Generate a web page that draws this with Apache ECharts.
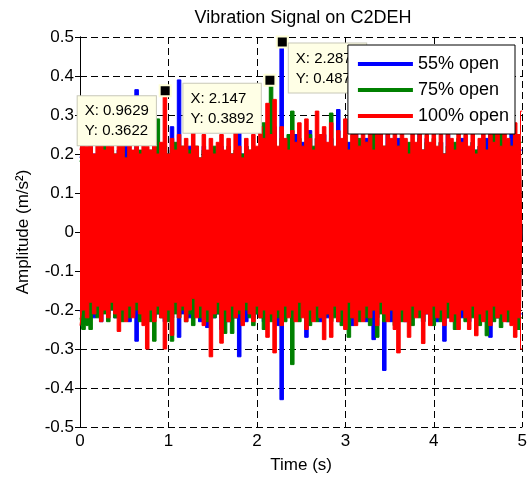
<!DOCTYPE html>
<html>
<head>
<meta charset="utf-8">
<script src="https://cdn.jsdelivr.net/npm/echarts@6/dist/echarts.min.js"></script>
<style>
html, body { margin: 0; padding: 0; background: #fff; }
#chart { width: 530px; height: 479px; }
</style>
</head>
<body>
<div id="chart"></div>
<script>
// sample period of the envelope readings (s)
var dt = 0.04;

var names = ['55% open', '75% open', '100% open'];

// upper / lower peaks, one value every dt
var blueUp = [
    0.19, 0.21, 0.18, 0.22, 0.2, 0.17, 0.21, 0.27, 0.19, 0.2,
    0.18, 0.21, 0.2, 0.22, 0.19, 0.2, 0.365, 0.18, 0.21, 0.2,
    0.19, 0.22, 0.2, 0.18, 0.21, 0.2, 0.27, 0.19, 0.39, 0.21,
    0.2, 0.22, 0.19, 0.21, 0.18, 0.22, 0.2, 0.19, 0.21, 0.2,
    0.22, 0.19, 0.21, 0.2, 0.18, 0.378, 0.2, 0.22, 0.19, 0.21,
    0.2, 0.22, 0.19, 0.21, 0.23, 0.27, 0.2, 0.487, 0.22, 0.24,
    0.21, 0.25, 0.2, 0.23, 0.22, 0.26, 0.2, 0.24, 0.22, 0.25,
    0.21, 0.24, 0.2, 0.314, 0.22, 0.2, 0.23, 0.21, 0.3, 0.22,
    0.2, 0.24, 0.21, 0.26, 0.2, 0.23, 0.21, 0.25, 0.2, 0.22,
    0.24, 0.2, 0.22, 0.21, 0.23, 0.2, 0.26, 0.21, 0.24, 0.2,
    0.22, 0.21, 0.23, 0.2, 0.25, 0.21, 0.22, 0.2, 0.24, 0.21,
    0.2, 0.23, 0.21, 0.22, 0.2, 0.24, 0.25, 0.21, 0.22, 0.2,
    0.23, 0.21, 0.28, 0.2, 0.22, 0.21
];
var blueLow = [
    -0.2, -0.22, -0.19, -0.21, -0.22, -0.2, -0.23, -0.19, -0.21, -0.2,
    -0.22, -0.2, -0.21, -0.19, -0.23, -0.2, -0.28, -0.21, -0.19, -0.22,
    -0.2, -0.22, -0.21, -0.2, -0.23, -0.21, -0.22, -0.2, -0.27, -0.21,
    -0.2, -0.22, -0.21, -0.19, -0.23, -0.21, -0.245, -0.2, -0.22, -0.21,
    -0.25, -0.2, -0.23, -0.21, -0.22, -0.32, -0.21, -0.23, -0.2, -0.22,
    -0.21, -0.2, -0.23, -0.21, -0.22, -0.2, -0.24, -0.43, -0.22, -0.21,
    -0.23, -0.2, -0.22, -0.21, -0.27, -0.2, -0.22, -0.21, -0.23, -0.2,
    -0.22, -0.21, -0.2, -0.23, -0.21, -0.22, -0.2, -0.24, -0.21, -0.22,
    -0.2, -0.23, -0.21, -0.276, -0.22, -0.2, -0.355, -0.21, -0.23, -0.2,
    -0.22, -0.21, -0.23, -0.2, -0.22, -0.21, -0.2, -0.23, -0.21, -0.22,
    -0.2, -0.23, -0.21, -0.28, -0.22, -0.2, -0.23, -0.21, -0.22, -0.2,
    -0.23, -0.21, -0.2, -0.22, -0.21, -0.23, -0.27, -0.2, -0.22, -0.21,
    -0.2, -0.23, -0.21, -0.22, -0.2, -0.21
];
var greenUp = [
    0.18, 0.2, 0.17, 0.21, 0.19, 0.2, 0.18, 0.22, 0.19, 0.21,
    0.2, 0.18, 0.22, 0.19, 0.21, 0.2, 0.18, 0.21, 0.2, 0.19,
    0.21, 0.2, 0.29, 0.19, 0.22, 0.2, 0.21, 0.23, 0.2, 0.22,
    0.19, 0.21, 0.2, 0.22, 0.19, 0.21, 0.2, 0.18, 0.22, 0.2,
    0.21, 0.19, 0.22, 0.2, 0.21, 0.19, 0.2, 0.22, 0.21, 0.19,
    0.21, 0.2, 0.28, 0.22, 0.389, 0.23, 0.21, 0.24, 0.22, 0.25,
    0.31, 0.22, 0.24, 0.21, 0.23, 0.25, 0.22, 0.24, 0.21, 0.23,
    0.22, 0.305, 0.21, 0.24, 0.22, 0.25, 0.21, 0.23, 0.22, 0.24,
    0.21, 0.23, 0.22, 0.25, 0.21, 0.24, 0.22, 0.2, 0.23, 0.21,
    0.22, 0.24, 0.21, 0.23, 0.2, 0.22, 0.24, 0.21, 0.23, 0.22,
    0.24, 0.21, 0.23, 0.2, 0.22, 0.21, 0.23, 0.24, 0.21, 0.22,
    0.2, 0.23, 0.21, 0.22, 0.24, 0.21, 0.23, 0.27, 0.22, 0.27,
    0.21, 0.23, 0.22, 0.24, 0.21, 0.23
];
var greenLow = [
    -0.22, -0.25, -0.24, -0.25, -0.21, -0.22, -0.2, -0.21, -0.23, -0.2,
    -0.22, -0.21, -0.23, -0.2, -0.22, -0.21, -0.2, -0.23, -0.21, -0.22,
    -0.23, -0.28, -0.21, -0.22, -0.2, -0.23, -0.28, -0.21, -0.22, -0.2,
    -0.23, -0.21, -0.24, -0.2, -0.22, -0.21, -0.23, -0.2, -0.22, -0.21,
    -0.22, -0.26, -0.21, -0.26, -0.22, -0.21, -0.23, -0.2, -0.22, -0.24,
    -0.21, -0.22, -0.25, -0.2, -0.23, -0.21, -0.22, -0.2, -0.23, -0.21,
    -0.34, -0.21, -0.23, -0.2, -0.22, -0.24, -0.21, -0.23, -0.2, -0.22,
    -0.21, -0.23, -0.22, -0.2, -0.24, -0.21, -0.27, -0.22, -0.2, -0.23,
    -0.21, -0.22, -0.24, -0.2, -0.27, -0.21, -0.23, -0.22, -0.2, -0.24,
    -0.21, -0.23, -0.22, -0.2, -0.24, -0.21, -0.22, -0.23, -0.2, -0.22,
    -0.24, -0.21, -0.23, -0.2, -0.22, -0.21, -0.25, -0.22, -0.2, -0.23,
    -0.21, -0.22, -0.2, -0.24, -0.22, -0.266, -0.21, -0.23, -0.22, -0.245,
    -0.2, -0.23, -0.22, -0.21, -0.25, -0.22
];
var redUp = [
    0.21, 0.24, 0.22, 0.26, 0.2, 0.23, 0.25, 0.21, 0.24, 0.22,
    0.2, 0.25, 0.22, 0.19, 0.24, 0.21, 0.23, 0.2, 0.26, 0.22,
    0.21, 0.24, 0.2, 0.23, 0.36, 0.2, 0.24, 0.21, 0.25, 0.22,
    0.24, 0.2, 0.26, 0.22, 0.19, 0.25, 0.21, 0.24, 0.2, 0.23,
    0.25, 0.21, 0.24, 0.2, 0.26, 0.22, 0.19, 0.24, 0.21, 0.25,
    0.22, 0.27, 0.24, 0.33, 0.25, 0.34, 0.22, 0.27, 0.24, 0.21,
    0.26, 0.23, 0.28, 0.22, 0.29, 0.24, 0.21, 0.31, 0.25, 0.27,
    0.23, 0.28, 0.22, 0.26, 0.24, 0.29, 0.21, 0.25, 0.27, 0.22,
    0.26, 0.23, 0.28, 0.21, 0.25, 0.3, 0.22, 0.27, 0.24, 0.26,
    0.22, 0.27, 0.24, 0.2, 0.26, 0.23, 0.28, 0.21, 0.25, 0.23,
    0.27, 0.22, 0.25, 0.2, 0.26, 0.24, 0.21, 0.27, 0.23, 0.25,
    0.22, 0.26, 0.2, 0.24, 0.27, 0.21, 0.25, 0.23, 0.26, 0.22,
    0.27, 0.24, 0.22, 0.28, 0.25, 0.31
];
var redLow = [
    -0.24, -0.2, -0.22, -0.18, -0.21, -0.19, -0.23, -0.2, -0.22, -0.18,
    -0.21, -0.255, -0.2, -0.23, -0.19, -0.22, -0.18, -0.21, -0.24, -0.3,
    -0.2, -0.23, -0.19, -0.22, -0.3, -0.2, -0.265, -0.18, -0.22, -0.19,
    -0.23, -0.2, -0.17, -0.22, -0.19, -0.24, -0.2, -0.32, -0.21, -0.18,
    -0.285, -0.2, -0.23, -0.19, -0.22, -0.2, -0.24, -0.18, -0.21, -0.23,
    -0.19, -0.22, -0.2, -0.27, -0.21, -0.31, -0.2, -0.24, -0.19, -0.22,
    -0.2, -0.23, -0.18, -0.22, -0.25, -0.2, -0.23, -0.19, -0.22, -0.276,
    -0.21, -0.27, -0.19, -0.23, -0.2, -0.25, -0.18, -0.22, -0.24, -0.2,
    -0.23, -0.19, -0.22, -0.2, -0.24, -0.18, -0.21, -0.23, -0.2, -0.25,
    -0.31, -0.2, -0.23, -0.27, -0.19, -0.22, -0.2, -0.286, -0.21, -0.24,
    -0.19, -0.22, -0.2, -0.24, -0.18, -0.23, -0.21, -0.25, -0.2, -0.22,
    -0.25, -0.19, -0.266, -0.21, -0.23, -0.2, -0.24, -0.19, -0.22, -0.21,
    -0.23, -0.2, -0.24, -0.27, -0.22, -0.3
];

// data tips shown on the plot
var tipX = [0.9629, 2.147, 2.287];
var tipY = [0.3622, 0.3892, 0.4872];

var colors = ['#0000ff', '#008000', '#ff0000'];
var upper = [blueUp, greenUp, redUp];
var lower = [blueLow, greenLow, redLow];
var tipSeries = [2, 1, 0];           // which trace each tip sits on
var tipPos = [[-81, 12], [-80, 10], [13, 8]];

var font = 'Liberation Sans, Arial, sans-serif';

function pairs(arr) {
    return arr.map(function (v, i) { return [+(i * dt).toFixed(2), v]; });
}

var series = [];
for (var k = 0; k < 3; k++) {
    [upper[k], lower[k]].forEach(function (arr, half) {
        var s = {
            name: names[k],
            type: 'line',
            data: pairs(arr),
            symbol: 'none',
            step: 'middle',
            sampling: null,
            lineStyle: { color: colors[k], width: 1 },
            itemStyle: { color: colors[k] },
            areaStyle: { color: colors[k], opacity: 1 },
            z: 2 + k
        };
        if (half === 0) {
            var marks = [];
            tipSeries.forEach(function (sIdx, j) {
                if (sIdx !== k) return;
                marks.push({
                    coord: [tipX[j], tipY[j]],
                    label: {
                        position: tipPos[j],
                        formatter: 'X: ' + tipX[j] + '\nY: ' + tipY[j]
                    }
                });
            });
            if (marks.length) {
                s.markPoint = {
                    symbol: 'rect',
                    symbolSize: 11,
                    itemStyle: { color: '#000', borderColor: '#ffffd8', borderWidth: 2 },
                    label: {
                        show: true,
                        color: '#000',
                        fontFamily: font,
                        fontSize: 15,
                        lineHeight: 20,
                        backgroundColor: '#ffffe6',
                        borderColor: '#c8c8b8',
                        borderWidth: 1,
                        padding: [5, 7, 4, 7],
                        align: 'left',
                        verticalAlign: 'top'
                    },
                    data: marks
                };
            }
        }
        series.push(s);
    });
}

var axisLine = { show: true, lineStyle: { color: '#000', width: 1 } };
var axisTick = { show: true, inside: true, length: 5, lineStyle: { color: '#000' } };
var grid = { type: [7, 4], color: '#000', width: 1 };

var myChart = echarts.init(document.getElementById('chart'));

var option = {
    animation: false,
    backgroundColor: '#fff',
    title: {
        text: 'Vibration Signal on C2DEH',
        left: 298,
        textAlign: 'center',
        top: 4,
        textStyle: { fontFamily: font, fontSize: 18, fontWeight: 'normal', color: '#000' }
    },
    grid: { left: 80, right: 5, top: 37, bottom: 49 },
    legend: {
        data: names,
        orient: 'vertical',
        right: 15,
        top: 45,
        z: 10,
        backgroundColor: '#fff',
        borderColor: '#000',
        borderWidth: 1,
        padding: [10, 6, 9, 10],
        icon: 'rect',
        itemWidth: 55,
        itemHeight: 4,
        itemGap: 8,
        selectedMode: false,
        textStyle: { fontFamily: font, fontSize: 18, color: '#000' }
    },
    xAxis: [{
        type: 'value',
        min: 0,
        max: 5,
        interval: 1,
        name: 'Time (s)',
        nameLocation: 'middle',
        nameGap: 30,
        nameTextStyle: { fontFamily: font, fontSize: 17, color: '#000' },
        axisLine: axisLine,
        axisTick: axisTick,
        axisLabel: { fontFamily: font, fontSize: 17, color: '#000', margin: 6 },
        splitLine: { show: true, lineStyle: grid }
    }, {
        type: 'value',
        position: 'top',
        min: 0,
        max: 5,
        interval: 1,
        axisLine: axisLine,
        axisTick: axisTick,
        axisLabel: { show: false },
        splitLine: { show: false }
    }],
    yAxis: [{
        type: 'value',
        min: -0.5,
        max: 0.5,
        interval: 0.1,
        name: 'Amplitude (m/s²)',
        nameLocation: 'middle',
        nameGap: 48,
        nameTextStyle: { fontFamily: font, fontSize: 17, color: '#000' },
        axisLine: axisLine,
        axisTick: axisTick,
        axisLabel: { fontFamily: font, fontSize: 17, color: '#000', margin: 6 },
        splitLine: { show: true, lineStyle: grid }
    }, {
        type: 'value',
        position: 'right',
        min: -0.5,
        max: 0.5,
        interval: 0.1,
        axisLine: axisLine,
        axisTick: axisTick,
        axisLabel: { show: false },
        splitLine: { show: false }
    }],
    series: series
};

myChart.setOption(option);
</script>
</body>
</html>
